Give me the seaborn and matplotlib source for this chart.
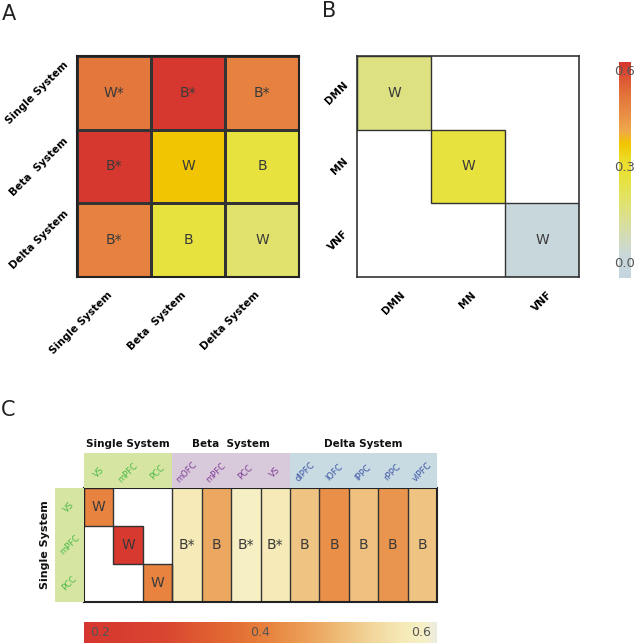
import numpy as np
import pandas as pd
import matplotlib
matplotlib.use("Agg")
import matplotlib.pyplot as plt
import seaborn as sns
from matplotlib.colors import LinearSegmentedColormap
from matplotlib.patches import Rectangle

# ---------------- data ----------------
systems = ["Single System", "Beta  System", "Delta System"]
a_values = [[0.51, 0.62, 0.49],
            [0.62, 0.37, 0.26],
            [0.49, 0.26, 0.19]]
a_annot = [["W*", "B*", "B*"],
           ["B*", "W", "B"],
           ["B*", "B", "W"]]

networks = ["DMN", "MN", "VNF"]
b_diag = [0.16, 0.26, 0.0]
b_diag_annot = ["W", "W", "W"]

c_rows = ["VS", "mPFC", "PCC"]
c_single_cols = ["VS", "mPFC", "PCC"]
c_beta_cols = ["mOFC", "mPFC", "PCC", "VS"]
c_delta_cols = ["dlPFC", "lOFC", "lPPC", "rPPC", "vlPFC"]
c_within = [0.41, 0.20, 0.41]
c_within_annot = ["W", "W", "W"]
c_between = [0.58, 0.47, 0.60, 0.58, 0.51, 0.43, 0.505, 0.44, 0.51]
c_between_annot = ["B*", "B", "B*", "B*", "B", "B", "B", "B", "B"]
group_titles = ["Single System", "Beta  System", "Delta System"]

ab_ticks = [0.0, 0.3, 0.6]
c_ticks = [0.2, 0.4, 0.6]

# ---------------- style ----------------
plt.rcParams["font.family"] = ["DejaVu Sans"]
W, H = 642, 644
TXT = "#3a3a3a"

def px(x0, y0, x1, y1):
    return [x0 / W, 1 - y1 / H, (x1 - x0) / W, (y1 - y0) / H]

ab_vmin, ab_vmax = -0.05, 0.625
ab_stops = [(-0.05, "#c5d5df"), (0.02, "#c8d8da"), (0.10, "#d6ddaa"),
            (0.18, "#e0e272"), (0.26, "#e8e23e"), (0.32, "#ecdc28"),
            (0.37, "#f2c600"), (0.41, "#eea84a"), (0.47, "#e88a44"),
            (0.53, "#e27038"), (0.625, "#d6362f")]
ab_cmap = LinearSegmentedColormap.from_list(
    "ab", [((v - ab_vmin) / (ab_vmax - ab_vmin), c) for v, c in ab_stops])

c_vmin, c_vmax = 0.18, 0.62
c_stops = [(0.18, "#d6362f"), (0.28, "#d94530"), (0.36, "#e26a32"),
           (0.40, "#e67e3a"), (0.45, "#eb9a52"), (0.50, "#eebc78"),
           (0.54, "#f2d69c"), (0.58, "#f5eab8"), (0.605, "#f6f0c6"),
           (0.62, "#ebebe0")]
c_cmap = LinearSegmentedColormap.from_list(
    "c", [((v - c_vmin) / (c_vmax - c_vmin), col) for v, col in c_stops])

fig = plt.figure(figsize=(W / 100, H / 100), dpi=100)

# ---------------- panel A ----------------
axA = fig.add_axes(px(77, 56, 299, 277))
dfA = pd.DataFrame(a_values, index=systems, columns=systems)
sns.heatmap(dfA, ax=axA, cmap=ab_cmap, vmin=ab_vmin, vmax=ab_vmax, cbar=False,
            annot=np.array(a_annot), fmt="", linewidths=0.8, linecolor="#333333",
            annot_kws=dict(fontsize=10, color=TXT), square=False)
for s in axA.spines.values():
    s.set_visible(True); s.set_linewidth(1.5); s.set_color("#222222")
axA.tick_params(length=0)
axA.set_xticklabels(systems, rotation=45, ha="right", fontweight="bold", fontsize=7.5)
axA.tick_params(axis="x", pad=9)
axA.set_yticklabels(systems, rotation=45, ha="right", va="center", fontweight="bold", fontsize=7.5)
axA.tick_params(axis="y", pad=5)
axA.set_xlabel(""); axA.set_ylabel("")

# ---------------- panel B ----------------
axB = fig.add_axes(px(357, 56, 579, 277))
caxB = fig.add_axes(px(619, 62, 631, 278))
b_mat = np.full((3, 3), np.nan)
b_ann = np.full((3, 3), "", dtype=object)
for i, v in enumerate(b_diag):
    b_mat[i, i] = v
    b_ann[i, i] = b_diag_annot[i]
dfB = pd.DataFrame(b_mat, index=networks, columns=networks)
sns.heatmap(dfB, ax=axB, cmap=ab_cmap, vmin=ab_vmin, vmax=ab_vmax, cbar=True, cbar_ax=caxB,
            annot=b_ann, fmt="", linewidths=0,
            annot_kws=dict(fontsize=10, color=TXT))
for i in range(len(networks)):
    axB.add_patch(Rectangle((i, i), 1, 1, fill=False, lw=1, ec="#333333"))
for s in axB.spines.values():
    s.set_visible(True); s.set_linewidth(1.2); s.set_color("#333333")
axB.tick_params(length=0)
axB.set_xticklabels(networks, rotation=45, ha="center", fontweight="bold", fontsize=7.5)
axB.tick_params(axis="x", pad=9)
axB.set_yticklabels(networks, rotation=45, ha="right", va="center", fontweight="bold", fontsize=7.5)
axB.tick_params(axis="y", pad=5)
axB.set_xlabel(""); axB.set_ylabel("")
cbB = axB.collections[0].colorbar
cbB.outline.set_visible(False)
cbB.set_ticks(ab_ticks)
cbB.set_ticklabels([f"{t:.1f}" for t in ab_ticks])
caxB.tick_params(length=0, pad=-12, labelsize=9.5, labelcolor="#555555")

# ---------------- panel C ----------------
c_cols = c_single_cols + c_beta_cols + c_delta_cols
n_rows, n_cols = len(c_rows), len(c_cols)
ns = len(c_single_cols)
c_mat = np.full((n_rows, n_cols), np.nan)
c_ann = np.full((n_rows, n_cols), "", dtype=object)
for i, v in enumerate(c_within):
    c_mat[i, i] = v
    c_ann[i, i] = c_within_annot[i]
for j, v in enumerate(c_between):
    c_mat[:, ns + j] = v
    c_ann[1, ns + j] = c_between_annot[j]

axC = fig.add_axes(px(84, 488, 437, 602))
caxC = fig.add_axes(px(84, 622, 437, 643))
dfC = pd.DataFrame(c_mat, index=c_rows, columns=range(n_cols))
sns.heatmap(dfC, ax=axC, cmap=c_cmap, vmin=c_vmin, vmax=c_vmax, cbar=True, cbar_ax=caxC,
            cbar_kws=dict(orientation="horizontal"),
            annot=c_ann, fmt="", linewidths=0, annot_kws=dict(fontsize=10, color=TXT))
for i in range(n_rows):
    axC.add_patch(Rectangle((i, i), 1, 1, fill=False, lw=1, ec="#333333"))
axC.vlines(np.arange(ns, n_cols), 0, n_rows, colors="#333333", lw=1)
for s in axC.spines.values():
    s.set_visible(True); s.set_linewidth(1.5); s.set_color("#222222")
axC.set_xticks([]); axC.set_yticks([])
axC.set_xlabel(""); axC.set_ylabel("")

cbC = axC.collections[0].colorbar
cbC.outline.set_visible(False)
caxC.set_xticks([])
for t in c_ticks:
    caxC.text(t, 0.5, f"{t:.1f}", transform=caxC.get_xaxis_transform(),
              ha="center", va="center", fontsize=9, color="#555555")

# header band
axH = fig.add_axes(px(84, 453, 437, 488))
axH.set_xlim(0, n_cols); axH.set_ylim(0, 1)
axH.axis("off")
groups = [(0, len(c_single_cols), "#d6e6a2", "#4cb848", c_single_cols),
          (len(c_single_cols), len(c_single_cols) + len(c_beta_cols), "#d9cadb", "#7f3f98", c_beta_cols),
          (len(c_single_cols) + len(c_beta_cols), n_cols, "#c8dae2", "#3a53a4", c_delta_cols)]
for (g0, g1, bg, fg, labels), title in zip(groups, group_titles):
    axH.axvspan(g0, g1, color=bg, lw=0)
    axH.text((g0 + g1) / 2, 1.12, title, ha="center", va="bottom",
             fontsize=7.5, fontweight="bold", color="#111111")
    for k, lab in enumerate(labels):
        axH.text(g0 + k + 0.5, 0.45, lab, rotation=45, ha="center", va="center",
                 fontsize=6, color=fg)

# row band
axR = fig.add_axes(px(55, 488, 84, 602))
axR.set_xlim(0, 1); axR.set_ylim(n_rows, 0)
axR.axis("off")
axR.axvspan(0, 1, color="#d6e6a2", lw=0)
for i, lab in enumerate(c_rows):
    axR.text(0.5, i + 0.5, lab, rotation=45, ha="center", va="center", fontsize=6, color="#4cb848")
fig.text(45 / W, 1 - 545 / H, "Single System", rotation=90, ha="center", va="center",
         fontsize=8, fontweight="bold", color="#111111")

# panel letters
fig.text(2 / W, 1 - 14 / H, "A", fontsize=15, va="center", ha="left", color="#222222")
fig.text(322 / W, 1 - 11 / H, "B", fontsize=15, va="center", ha="left", color="#222222")
fig.text(1 / W, 1 - 410 / H, "C", fontsize=15, va="center", ha="left", color="#222222")

fig.savefig("out.png", dpi=100)
